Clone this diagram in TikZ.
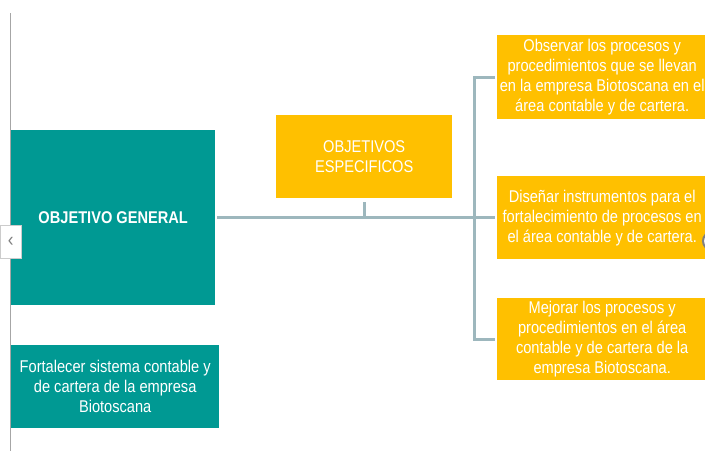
\documentclass[tikz,border=0pt]{standalone}
\usepackage{fontspec}
\setmainfont{Liberation Sans}[FakeStretch=0.86]
\definecolor{verde}{HTML}{009993}
\definecolor{oro}{HTML}{FFC000}
\definecolor{linea}{HTML}{9DB7BD}
\tikzset{
    caja/.style={text=white, align=center, inner sep=0pt, anchor=north west, font=\fontsize{17}{20}\selectfont},
    general/.style={caja, fill=verde},
    especifico/.style={caja, fill=oro},
    conector/.style={draw=linea, line width=3pt}
}
\begin{document}
\begin{tikzpicture}[x=1pt, y=-1pt]
        \useasboundingbox[fill=white] (0, 0) rectangle (705, 451);
        \draw [gray!70, line width=1pt] (10, 13) -- (10, 451);
        % cajas
        \node [general, minimum width=204, minimum height=175, font=\fontsize{17}{20}\selectfont\bfseries] (general) at (11, 130) {OBJETIVO GENERAL};
        \node [general, minimum width=208, minimum height=83] (meta) at (11, 345) {Fortalecer sistema contable y\\de cartera de la empresa\\Biotoscana};
        \node [especifico, minimum width=176, minimum height=83] (especificos) at (276, 115) {OBJETIVOS\\ESPECIFICOS};
        \node [especifico, minimum width=210, minimum height=84] (esp1) at (497, 35) {Observar los procesos y\\procedimientos que se llevan\\en la empresa Biotoscana en el\\área contable y de cartera.};
        \node [especifico, minimum width=210, minimum height=83] (esp2) at (497, 176) {Diseñar instrumentos para el\\fortalecimiento de procesos en\\el área contable y de cartera.};
        \node [especifico, minimum width=210, minimum height=82] (esp3) at (497, 298) {Mejorar los procesos y\\procedimientos en el área\\contable y de cartera de la\\empresa Biotoscana.};
        % conectores
        \draw [conector, shorten <=2pt, shorten >=2pt] (general.east) -- (esp2.west);
        \draw [conector, shorten <=4pt] (especificos.south) -- (especificos.south |- general.east);
        \draw [conector, shorten <=2pt, shorten >=2pt] (esp1.west) -- ++(-23, 0) |- (esp3.west);
        % controles de pantalla
        \node [draw=gray!40, fill=white, minimum width=21, minimum height=33, inner sep=0pt, anchor=north west, text=gray, font=\fontsize{20}{20}\selectfont] (tab) at (0, 225) {‹};
        \draw [gray, line width=2pt, fill=white] (712, 241) circle (9);
\end{tikzpicture}
\end{document}
